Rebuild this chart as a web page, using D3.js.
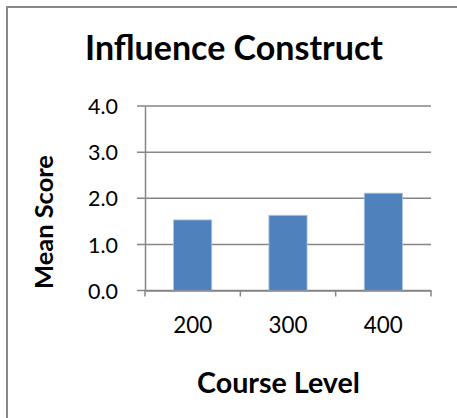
<!DOCTYPE html>
<html><head><meta charset="utf-8">
<script src="https://cdn.jsdelivr.net/npm/d3@7"></script>
<style>html,body{margin:0;padding:0;background:#fff;overflow:hidden}</style>
</head><body>
<script>
const categories = ["200", "300", "400"];
const values = [1.53, 1.63, 2.11];
const yTicks = [0, 1, 2, 3, 4];
const title = "Influence Construct";
const xTitle = "Course Level";
const yTitle = "Mean Score";

const W = 457, H = 418;
const svg = d3.select("body").append("svg").attr("width", W).attr("height", H);
const font = "Lato, 'Open Sans', sans-serif";

svg.append("rect").attr("x", 7).attr("y", 7).attr("width", 500).attr("height", 500)
  .attr("fill", "#fff").attr("stroke", "#878787").attr("stroke-width", 2);

const x0 = 145, x1 = 431, yTop = 106, yBot = 290.5;
const x = d3.scaleBand().domain(categories).range([x0, x1]).paddingInner(0.6).paddingOuter(0.3);
const y = d3.scaleLinear().domain([0, 4]).range([yBot, yTop]);

// gridlines
svg.append("g").selectAll("line").data(yTicks).join("line")
  .attr("x1", x0 - 8).attr("x2", x1).attr("y1", d => y(d)).attr("y2", d => y(d))
  .attr("stroke", "#868686").attr("stroke-width", 1.5);

// bars
svg.append("g").selectAll("rect").data(values).join("rect")
  .attr("x", (d, i) => x(categories[i])).attr("width", x.bandwidth())
  .attr("y", d => y(d)).attr("height", d => yBot - y(d))
  .attr("fill", "#4F81BD").attr("stroke", "#A9C3E3").attr("stroke-width", 0.8);

// y axis
const yAxis = svg.append("g").attr("transform", `translate(${x0},0)`)
  .call(d3.axisLeft(y).tickValues(yTicks).tickFormat(d3.format(".1f")).tickSize(0).tickPadding(27));
yAxis.select(".domain").attr("stroke", "#868686").attr("stroke-width", 1.5);
yAxis.selectAll("text").attr("font-family", font).attr("font-size", 21).attr("fill", "#000").attr("dy", "0.36em");

// x axis
const xAxis = svg.append("g").attr("transform", `translate(0,${yBot})`)
  .call(d3.axisBottom(x).tickSize(0).tickPadding(27));
xAxis.select(".domain").attr("stroke", "#868686").attr("stroke-width", 1.5);
xAxis.selectAll("text").attr("font-family", font).attr("font-size", 21).attr("fill", "#000").attr("dy", 0).attr("y", 42.5);
// category boundary ticks
const bounds = [x0].concat(categories.map(c => x(c) + x.bandwidth() + x.step() * 0.3));
svg.append("g").selectAll("line").data(bounds).join("line")
  .attr("x1", d => d).attr("x2", d => d).attr("y1", yBot).attr("y2", yBot + 6)
  .attr("stroke", "#868686").attr("stroke-width", 1.5);

function fit(sel, target) {
  const n = sel.node();
  const fs = parseFloat(sel.attr("font-size"));
  const w = n.getComputedTextLength();
  sel.attr("font-size", fs * target / w);
}

const t = svg.append("text").attr("x", 234).attr("y", 60).attr("text-anchor", "middle")
  .attr("font-family", font).attr("font-weight", "bold").attr("font-size", 32).text(title);
fit(t, 298);

const xt = svg.append("text").attr("x", 278.5).attr("y", 393).attr("text-anchor", "middle")
  .attr("font-family", font).attr("font-weight", "bold").attr("font-size", 26).text(xTitle);
fit(xt, 163);

const yt = svg.append("text").attr("transform", "translate(53,222) rotate(-90)").attr("text-anchor", "middle")
  .attr("font-family", font).attr("font-weight", "bold").attr("font-size", 26).text(yTitle);
fit(yt, 134);

xAxis.selectAll("text").each(function(){ fit(d3.select(this), 39); });
yAxis.selectAll("text").each(function(){ fit(d3.select(this), 30); });
</script>
</body></html>
